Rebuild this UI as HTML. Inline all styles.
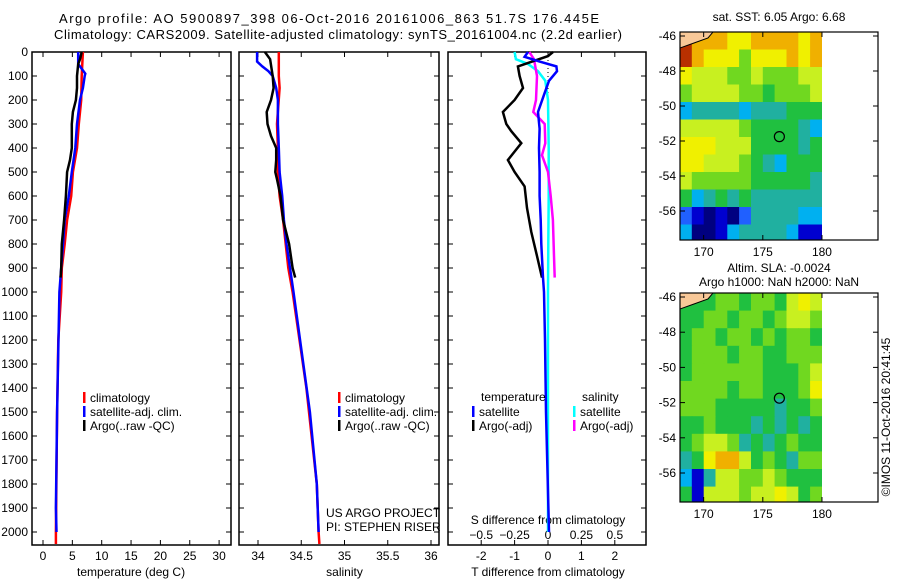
<!DOCTYPE html>
<html><head><meta charset="utf-8"><style>
body{margin:0;background:#fff;}
svg{display:block;font-family:"Liberation Sans",sans-serif;}
</style></head><body>
<svg id="fig" width="900" height="580" xmlns="http://www.w3.org/2000/svg">
<text x="59" y="23" font-size="13" textLength="540">Argo profile: AO 5900897_398 06-Oct-2016 20161006_863 51.7S 176.445E</text>
<text x="54" y="39" font-size="13" textLength="568">Climatology: CARS2009. Satellite-adjusted climatology: synTS_20161004.nc (2.2d earlier)</text>
<g id="g1"></g>
<g id="g2"></g>
<g id="g3"></g>
<g id="m1"></g>
<g id="m2"></g>
<text x="779" y="21" font-size="12" text-anchor="middle">sat. SST: 6.05 Argo: 6.68</text>
<text x="779" y="272" font-size="12" text-anchor="middle">Altim. SLA: -0.0024</text>
<text x="779" y="286" font-size="12" text-anchor="middle">Argo h1000: NaN h2000: NaN</text>
<text x="0" y="0" font-size="12" text-anchor="middle" transform="translate(890,417) rotate(-90)">©IMOS 11-Oct-2016 20:41:45</text>
<text x="326" y="517" font-size="12">US ARGO PROJECT</text>
<text x="326" y="531" font-size="12">PI: STEPHEN RISER</text>
</svg>
<script>
// ---- depth axis ----
const depthTicks=[0,100,200,300,400,500,600,700,800,900,1000,1100,1200,1300,1400,1500,1600,1700,1800,1900,2000];
// ---- temperature panel data ----
const tTicks=[0,5,10,15,20,25,30];
const tClimD=[0,100,200,300,400,500,600,700,800,900,1000,1200,1500,2000,2050];
const tClimV=[6.8,6.6,6.5,6.1,5.8,5.1,4.8,4.1,3.7,3.2,3.1,2.6,2.4,2.2,2.2];
const tSatD=[0,50,90,100,150,200,300,400,500,600,700,800,900,1000,1500,1900,2000];
const tSatV=[6.0,6.0,7.2,7.1,6.8,6.3,5.8,5.5,4.9,4.4,3.7,3.4,3.1,2.8,2.4,2.2,2.3];
const tArgoD=[0,30,50,100,150,200,250,300,350,400,450,500,600,700,800,900,940];
const tArgoV=[6.6,6.3,6.0,5.8,5.8,5.6,5.1,4.9,4.9,4.9,4.6,4.1,3.9,3.6,3.2,3.1,3.0];
// ---- salinity panel data ----
const sTicks=[34,34.5,35,35.5,36];
const sClimD=[0,100,150,300,400,500,600,700,800,900,1000,1200,1400,1600,1800,2000,2050];
const sClimV=[34.24,34.24,34.25,34.22,34.23,34.23,34.25,34.29,34.32,34.35,34.40,34.48,34.56,34.62,34.68,34.70,34.71];
const sSatD=[0,40,60,80,100,150,200,300,400,500,600,700,800,900,1000,1500,1800,2000];
const sSatV=[33.99,33.99,34.05,34.12,34.17,34.21,34.23,34.23,34.24,34.25,34.28,34.30,34.33,34.37,34.41,34.60,34.68,34.70];
const sArgoD=[0,30,100,150,200,250,300,350,400,450,500,530,600,700,800,900,940];
const sArgoV=[34.08,34.14,34.17,34.18,34.15,34.10,34.11,34.15,34.21,34.21,34.20,34.22,34.26,34.29,34.36,34.40,34.43];
// ---- difference panel data ----
const dTTicks=[-2,-1,0,1,2];
const dSTicks=[-0.5,-0.25,0,0.25,0.5];
const dTSatD=[0,20,40,60,80,120,170,250,320,400,500,600,700,800,940,1000,1200,1500,2000];
const dTSatV=[-0.6,-0.7,-0.25,0.25,0.27,0.03,-0.1,-0.3,-0.25,-0.27,-0.25,-0.25,-0.22,-0.2,-0.15,-0.12,-0.09,-0.06,0.03];
const dTArgoD=[0,17,60,100,150,200,250,300,330,380,450,500,560,650,750,850,940];
const dTArgoV=[0.15,0,-0.9,-0.85,-0.75,-1.0,-1.35,-1.25,-1.1,-0.8,-1.2,-1.0,-0.7,-0.63,-0.5,-0.33,-0.18];
const dSSatD=[0,30,50,80,120,200,400,600,800,1000,2000];
const dSSatV=[-0.25,-0.24,-0.15,-0.075,-0.02,0,0.005,0.005,0.002,0,0];
const dSArgoD=[0,30,100,200,250,300,380,430,500,600,700,850,940];
const dSArgoV=[-0.14,-0.105,-0.082,-0.09,-0.11,-0.025,-0.02,-0.045,0,0.02,0.037,0.045,0.05];
// ---- maps data (color index per 1x1 deg cell, rows from north) ----
const lonTicks=[170,175,180];
const latTicks=[-46,-48,-50,-52,-54,-56];
const sstGrid=[
[10,9,9,9,8,8,9,9,9,9,8,9],
[10,9,8,8,8,6,8,8,8,9,8,9],
[8,7,7,7,6,6,7,6,6,6,7,7],
[6,7,7,7,7,6,6,5,6,6,6,7],
[3,4,4,4,4,3,4,4,4,5,5,5],
[7,7,7,7,7,6,5,5,5,5,4,3],
[8,8,8,7,7,7,5,5,5,5,4,5],
[8,8,7,7,7,6,5,4,3,5,5,5],
[7,6,6,6,6,6,5,5,5,5,5,4],
[5,3,4,5,4,5,4,4,4,4,4,4],
[2,1,0,1,0,2,4,4,4,4,3,3],
[3,0,0,1,3,4,4,4,4,3,1,1]];
const slaGrid=[
[5,5,5,6,6,5,6,6,5,7,8,7],
[5,5,6,6,5,6,6,5,6,7,7,6],
[5,6,6,5,6,6,5,6,5,6,6,5],
[5,6,6,6,5,6,6,5,5,6,6,6],
[5,6,6,6,6,6,6,5,5,5,6,7],
[6,6,6,6,5,6,6,5,5,5,6,8],
[6,6,6,5,5,5,5,5,4,5,5,6],
[5,5,6,5,5,5,4,5,4,5,4,5],
[5,6,7,7,6,4,5,4,5,6,5,5],
[4,5,8,9,9,7,5,6,5,4,6,6],
[3,1,4,7,7,6,6,7,6,5,5,5],
[5,1,7,7,7,6,7,7,8,7,5,6]];
const argoLon=[176.4];
const argoLat=[-51.75];

const NS='http://www.w3.org/2000/svg';
function mk(tag,attrs,parent){const e=document.createElementNS(NS,tag);for(const k in attrs)e.setAttribute(k,attrs[k]);parent.appendChild(e);return e;}
const Y0=52,YS=0.24;
const yD=d=>Y0+d*YS;
const TOP=52,BOT=545;

function panel(g,L,R,xf,ticks,tickFmt,title,name){
  const fr=mk('rect',{x:L,y:TOP,width:R-L,height:BOT-TOP,fill:'none',stroke:'#000','stroke-width':1.5},g);
  
  
  depthTicks.forEach(d=>{
    const y=yD(d);
    const a=mk('line',{x1:L,x2:L+5,y1:y,y2:y,stroke:'#000'},g);
    
    
    const b=mk('line',{x1:R-5,x2:R,y1:y,y2:y,stroke:'#000'},g);
    
    
  });
  ticks.forEach(v=>{
    const x=xf(v);
    const a=mk('line',{x1:x,x2:x,y1:TOP,y2:TOP+5,stroke:'#000'},g);
    
    
    const b=mk('line',{x1:x,x2:x,y1:BOT-5,y2:BOT,stroke:'#000'},g);
    
    
    const t=mk('text',{x:x,y:560,'font-size':12,'text-anchor':'middle'},g);
    t.textContent=tickFmt(v);
    
    
  });
  const tt=mk('text',{x:(xf(ticks[0])+xf(ticks[ticks.length-1]))/2,y:576,'font-size':12,'text-anchor':'middle'},g);
  tt.textContent=title;
  
  
}
function series(g,D,V,xf,color,name){
  const pts=D.map((d,i)=>xf(V[i]).toFixed(1)+','+yD(d).toFixed(1)).join(' ');
  const p=mk('polyline',{points:pts,fill:'none',stroke:color,'stroke-width':2.5},g);
  
  
}
function legend(g,x,y,color,label){
  const r=mk('rect',{x:x,y:y-10,width:2.5,height:11,fill:color},g);
  
  
  const t=mk('text',{x:x+7,y:y,'font-size':12},g);
  t.textContent=label;
  
  
}

// depth labels
const svg=document.getElementById('fig');
depthTicks.forEach(d=>{
  const t=mk('text',{x:28,y:yD(d)+4,'font-size':12,'text-anchor':'end'},svg);
  t.textContent=d;
  
  
});
const t2=mk('text',{x:28,y:yD(2050)+4,'font-size':1,'text-anchor':'end'},svg);

// panel 1
const g1=document.getElementById('g1');
const xT=v=>43+v*5.87;
panel(g1,32,231,xT,tTicks,v=>v,'temperature (deg C)','temperature-panel');
series(g1,tClimD,tClimV,xT,'#ff0000','temp-climatology-line');
series(g1,tSatD,tSatV,xT,'#0000ff','temp-satellite-line');
series(g1,tArgoD,tArgoV,xT,'#000000','temp-argo-line');
legend(g1,83,402,'#ff0000','climatology');
legend(g1,83,416,'#0000ff','satellite-adj. clim.');
legend(g1,83,430,'#000000','Argo(..raw -QC)');

// panel 2
const g2=document.getElementById('g2');
const xS=v=>258+(v-34)*86.5;
panel(g2,239,439,xS,sTicks,v=>v,'salinity','salinity-panel');
series(g2,sClimD,sClimV,xS,'#ff0000','sal-climatology-line');
series(g2,sSatD,sSatV,xS,'#0000ff','sal-satellite-line');
series(g2,sArgoD,sArgoV,xS,'#000000','sal-argo-line');
legend(g2,338,402,'#ff0000','climatology');
legend(g2,338,416,'#0000ff','satellite-adj. clim.');
legend(g2,338,430,'#000000','Argo(..raw -QC)');

// panel 3
const g3=document.getElementById('g3');
const xD=v=>548+v*33.4;
const xDS=v=>548+v*4*33.4;
panel(g3,448,646,xD,dTTicks,v=>v,'T difference from climatology','difference-panel');
dSTicks.forEach(v=>{
  const t=mk('text',{x:xDS(v),y:539,'font-size':12,'text-anchor':'middle'},g3);
  t.textContent=v===0?'0':(v<0?'\u2212'+Math.abs(v):v);
  
  
});
const st=mk('text',{x:548,y:524,'font-size':12,'text-anchor':'middle'},g3);
st.textContent='S difference from climatology';


const zl=mk('line',{x1:xD(0),x2:xD(0),y1:TOP,y2:yD(800),stroke:'#000','stroke-dasharray':'1,3'},g3);


series(g3,dSSatD,dSSatV,xDS,'#00ffff','sal-diff-satellite-line');
series(g3,dSArgoD,dSArgoV,xDS,'#ff00ff','sal-diff-argo-line');
series(g3,dTArgoD,dTArgoV,xD,'#000000','temp-diff-argo-line');
series(g3,dTSatD,dTSatV,xD,'#0000ff','temp-diff-satellite-line');
const lt=mk('text',{x:481,y:401,'font-size':12},g3);lt.textContent='temperature';


const ls=mk('text',{x:582,y:401,'font-size':12},g3);ls.textContent='salinity';


legend(g3,472,416,'#0000ff','satellite');
legend(g3,472,430,'#000000','Argo(-adj)');
legend(g3,573,416,'#00ffff','satellite');
legend(g3,573,430,'#ff00ff','Argo(-adj)');

// maps
const cmap=['#000080','#0000d0','#2060ff','#00b0f0','#20b0a0','#20c040','#70d820','#c8f020','#f0f000','#f0b000','#b83000'];
function map(g,grid,top,bot,lat46,lat56,name){
  const L=680,R=878,DR=822;
  const xL=v=>680+(v-168)*11.83;
  const yL=v=>lat46+(-46-v)*(lat56-lat46)/10;
  const cid='clip'+name;
  const cp=mk('clipPath',{id:cid},g);
  mk('rect',{x:L,y:top,width:DR-L,height:bot-top},cp);
  const cg=mk('g',{'clip-path':'url(#'+cid+')'},g);
  const latTop=-46+(lat46-top)/((lat56-lat46)/10);
  grid.forEach((row,r)=>row.forEach((v,c)=>{
    const y1=yL(latTop-r), y2=yL(latTop-r-1);
    const rc=mk('rect',{x:xL(168+c).toFixed(1),y:y1.toFixed(1),width:(11.83+0.5).toFixed(1),height:(y2-y1+0.5).toFixed(1),fill:cmap[v]},cg);
    
    
  }));
  const land=mk('polygon',{points:`${L},${top} ${L+33},${top} ${L+28},${top+6} ${L+14},${top+11} ${L},${top+16}`,fill:'#f8c898',stroke:'#000','stroke-width':1},cg);
  
  
  const fr=mk('rect',{x:L,y:top,width:R-L,height:bot-top,fill:'none',stroke:'#000','stroke-width':1.2},g);
  
  
  lonTicks.forEach(v=>{
    const x=xL(v);
    mk('line',{x1:x,x2:x,y1:top,y2:top+5,stroke:'#000'},g);
    mk('line',{x1:x,x2:x,y1:bot-5,y2:bot,stroke:'#000'},g);
    const t=mk('text',{x:x,y:bot+16,'font-size':12,'text-anchor':'middle'},g);
    t.textContent=v;
    
    
  });
  latTicks.forEach(v=>{
    const y=yL(v);
    mk('line',{x1:L,x2:L+5,y1:y,y2:y,stroke:'#000'},g);
    mk('line',{x1:R-5,x2:R,y1:y,y2:y,stroke:'#000'},g);
    const t=mk('text',{x:676,y:y+4,'font-size':12,'text-anchor':'end'},g);
    t.textContent=v;
    
    
  });
  argoLon.forEach((lo,i)=>{
    const c=mk('circle',{cx:xL(lo),cy:yL(argoLat[i]),r:5,fill:'none',stroke:'#000','stroke-width':1.2},g);
    
    
  });
}
map(document.getElementById('m1'),sstGrid,32,240,36,211,'sst-map');
map(document.getElementById('m2'),slaGrid,293,502,297,473,'sla-map');
</script>
</body></html>
